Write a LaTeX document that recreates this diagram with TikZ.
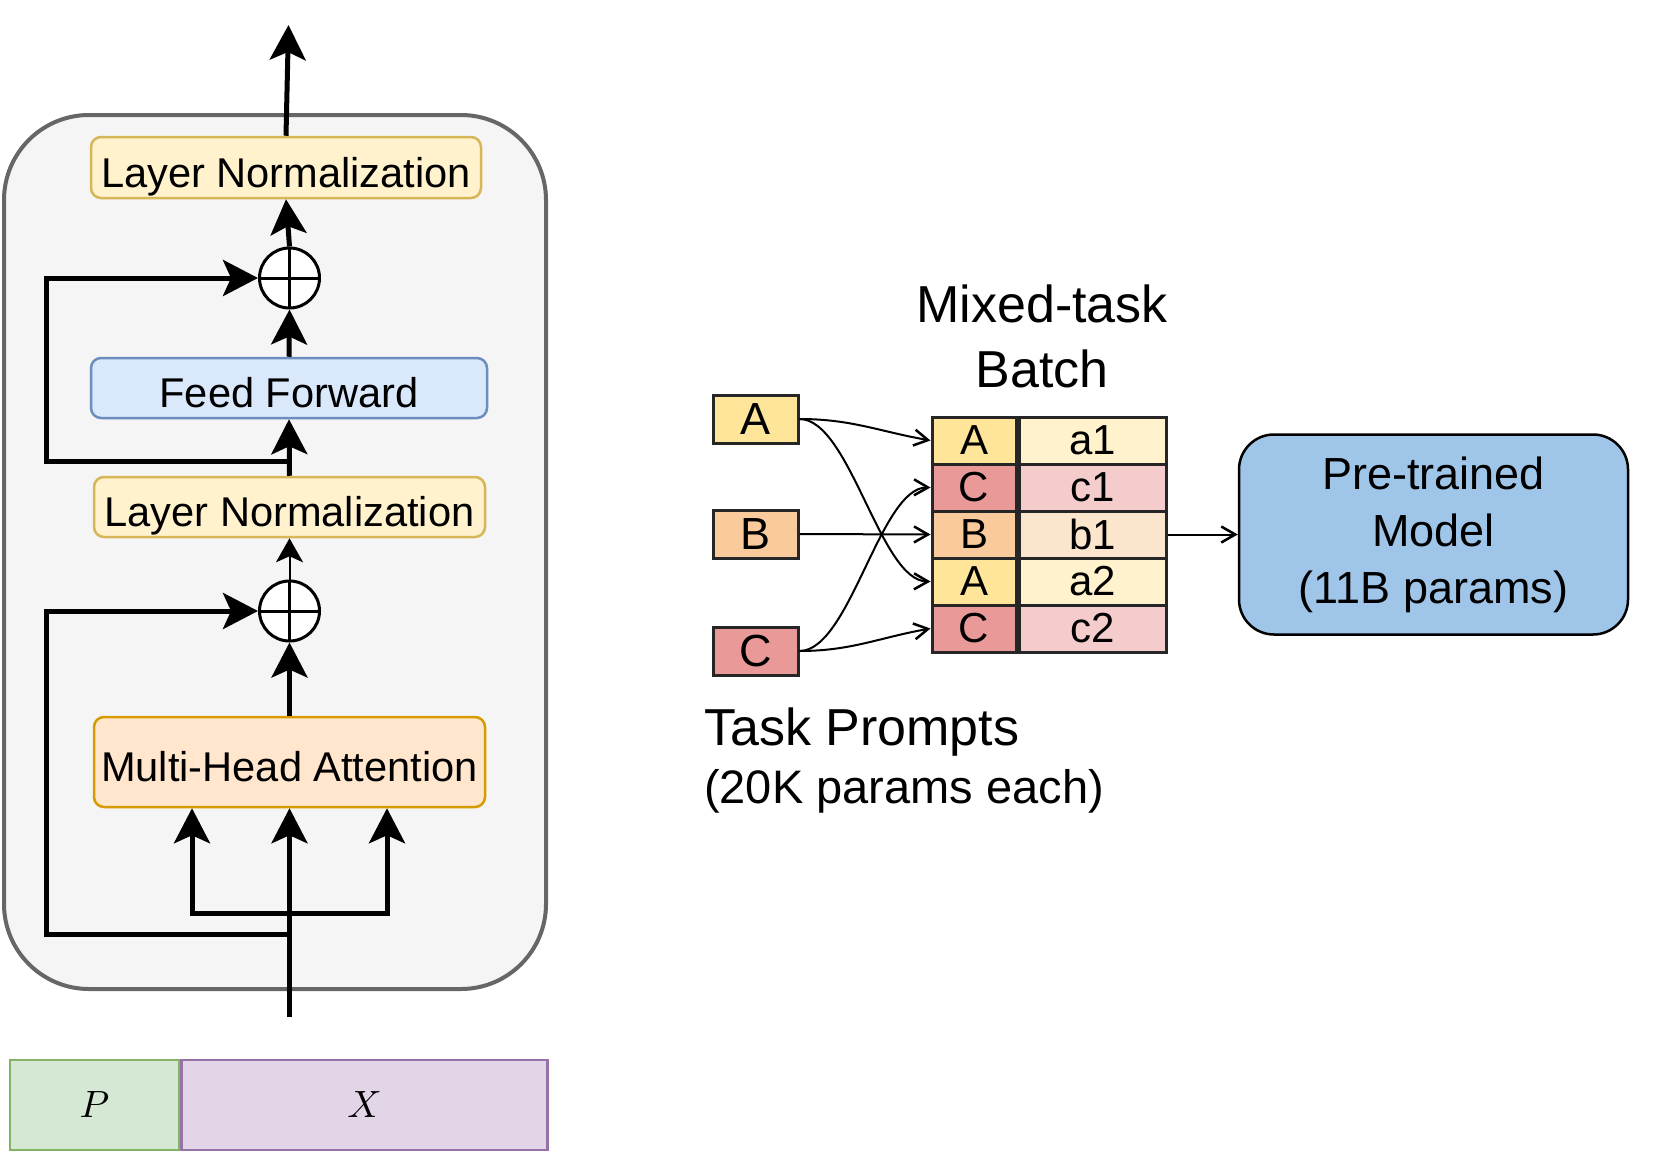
\documentclass[tikz,border=0pt]{standalone}
\usepackage{fontspec}
\setmainfont{Liberation Sans}
\usetikzlibrary{arrows.meta, positioning, shapes}
\usepackage{xcolor}

\definecolor{blockgray}{HTML}{F5F5F5}
\definecolor{blockline}{HTML}{666666}
\definecolor{lnfill}{HTML}{FFF2CC}
\definecolor{lnline}{HTML}{D6B656}
\definecolor{fffill}{HTML}{DAE8FC}
\definecolor{ffline}{HTML}{6C8EBF}
\definecolor{attfill}{HTML}{FFE6CC}
\definecolor{attline}{HTML}{D79B00}
\definecolor{pfill}{HTML}{D5E8D4}
\definecolor{pline}{HTML}{82B366}
\definecolor{xfill}{HTML}{E1D5E7}
\definecolor{xline}{HTML}{9673A6}
\definecolor{taskA}{HTML}{FFE599}
\definecolor{taskAl}{HTML}{FFF2CC}
\definecolor{taskB}{HTML}{F9CB9C}
\definecolor{taskBl}{HTML}{FCE5CD}
\definecolor{taskC}{HTML}{EA9999}
\definecolor{taskCl}{HTML}{F4CCCC}
\definecolor{modelfill}{HTML}{9FC5E8}

\tikzset{
    block/.style={draw, rounded corners=10pt, line width=2.5pt, inner sep=0pt,
        text height=39pt, text depth=0pt, font=\fontsize{41.6}{50}\selectfont},
    lnbox/.style={block, fill=lnfill, draw=lnline},
    ffbox/.style={block, fill=fffill, draw=ffline},
    attbox/.style={block, fill=attfill, draw=attline},
    plusnode/.style={circle, draw, fill=white, line width=3pt, minimum size=60pt, inner sep=0pt,
        path picture={\draw[line width=3pt] (path picture bounding box.north) -- (path picture bounding box.south)
            (path picture bounding box.west) -- (path picture bounding box.east);}},
    mainarrow/.style={line width=5pt, -{Stealth[length=35pt, width=36pt, inset=8pt]}},
    thinarrow/.style={line width=2pt, -{Stealth[length=24pt, width=27pt, inset=6pt]}},
    seqbox/.style={draw, line width=2.5pt, minimum height=90pt, inner sep=0pt},
    promptbox/.style={draw=black!85, line width=3pt, minimum width=85pt, minimum height=48pt, inner sep=0pt,
        font=\fontsize{45}{54}\selectfont},
    cellbox/.style={draw=black!85, line width=3pt, minimum height=47pt, inner sep=0pt,
        font=\fontsize{42}{50}\selectfont},
    link/.style={line width=2pt, -{Straight Barb[length=14pt, width=16pt, line width=2.5pt]}}
}

\begin{document}
\begin{tikzpicture}[x=1pt, y=-1pt]
    \useasboundingbox (0,0) rectangle (1653,1164);

    % Transformer block with the prompt in front of the input
    \draw[line width=4pt, draw=blockline, fill=blockgray, rounded corners=85pt] (4,115) rectangle (546,989); % outer block

    \node[lnbox, minimum width=390pt, minimum height=61pt] (ln1) at (286,167.5) {Layer Normalization};
    \node[plusnode] (p1) at (289.5,278) {};
    \node[ffbox, minimum width=396pt, minimum height=60pt] (ff) at (289,388) {Feed Forward};
    \node[lnbox, minimum width=391pt, minimum height=60pt] (ln2) at (289.5,507) {Layer Normalization};
    \node[plusnode] (p2) at (289.5,611) {};
    \node[attbox, minimum width=391pt, minimum height=90pt] (mha) at (289.5,762) {Multi-Head Attention};

    \coordinate (out) at (288.5,25); % output of the block
    \coordinate (r1) at (289.5,461); % residual 1
    \coordinate (r2) at (289.5,934); % residual 2
    \coordinate (br) at (289.5,913); % split into q, k, v
    \coordinate (in) at (289.5,1017); % input

    \draw[mainarrow] (ln1.north) -- (out);
    \draw[mainarrow] (p1.north) -- (ln1.south);
    \draw[mainarrow] (ff.north) -- (p1.south);
    \draw[mainarrow] (ln2.north) -- (ff.south);
    \draw[mainarrow] (r1) -- ++(-243.5,0) |- (p1.west);
    \draw[thinarrow] (p2.north) -- (ln2.south);
    \draw[mainarrow] (mha.north) -- (p2.south);
    \draw[mainarrow] (r2) -- ++(-243.5,0) |- (p2.west);
    \draw[mainarrow] (in) -- (mha.south);
    \draw[mainarrow] (br) -| ([xshift=-97.5pt]mha.south);
    \draw[mainarrow] (br) -| ([xshift=97.5pt]mha.south);

    % prompt P and input X
    \node[seqbox, fill=pfill, draw=pline, minimum width=169pt] (pp) at (94.5,1105) {\scalebox{3.8}{$P$}};
    \node[seqbox, fill=xfill, draw=xline, minimum width=366pt, right=0pt of pp] (xx) {\scalebox{3.8}{$X$}};

    % Mixed-task batch
    \node[anchor=north, inner sep=0pt, align=center, font=\fontsize{52}{65}\selectfont] (title) at (1042,285) {Mixed-task\\Batch};

    \node[promptbox, fill=taskA] (ta) at (755.5,419) {A};
    \node[promptbox, fill=taskB] (tb) at (755.5,534) {B};
    \node[promptbox, fill=taskC] (tc) at (755.5,651) {C};

    \foreach \lab/\val/\dk/\lt [count=\i] in {A/a1/taskA/taskAl, C/c1/taskC/taskCl, B/b1/taskB/taskBl, A/a2/taskA/taskAl, C/c2/taskC/taskCl}{
        \node[cellbox, fill=\dk, minimum width=84pt] (tl\i) at (974,393.5+47*\i) {\lab};
        \node[cellbox, fill=\lt, minimum width=147pt, right=0pt of tl\i] (tv\i) {\val};
    }

    \draw[link] (ta.east) to[out=0, in=170] (tl1.west);
    \draw[link] (ta.east) .. controls (850,419) and (880,581) .. (tl4.west);
    \draw[link] (tb.east) -- (tl3.west);
    \draw[link] (tc.east) .. controls (850,651) and (880,487) .. (tl2.west);
    \draw[link] (tc.east) to[out=0, in=190] (tl5.west);

    \node[anchor=north west, inner sep=0pt, align=left, font=\fontsize{52}{58}\selectfont] (tp) at (704,708)
        {Task Prompts\\\fontsize{47}{58}\selectfont (20K params each)};

    % frozen model
    \node[draw, line width=2.5pt, fill=modelfill, rounded corners=35pt, minimum width=389pt, minimum height=200pt,
        align=center, font=\fontsize{45}{57}\selectfont] (model) at (1433.5,534.5) {Pre-trained\\Model\\(11B params)};
    \draw[link] (tv3.east) -- (model.west);
\end{tikzpicture}
\end{document}
